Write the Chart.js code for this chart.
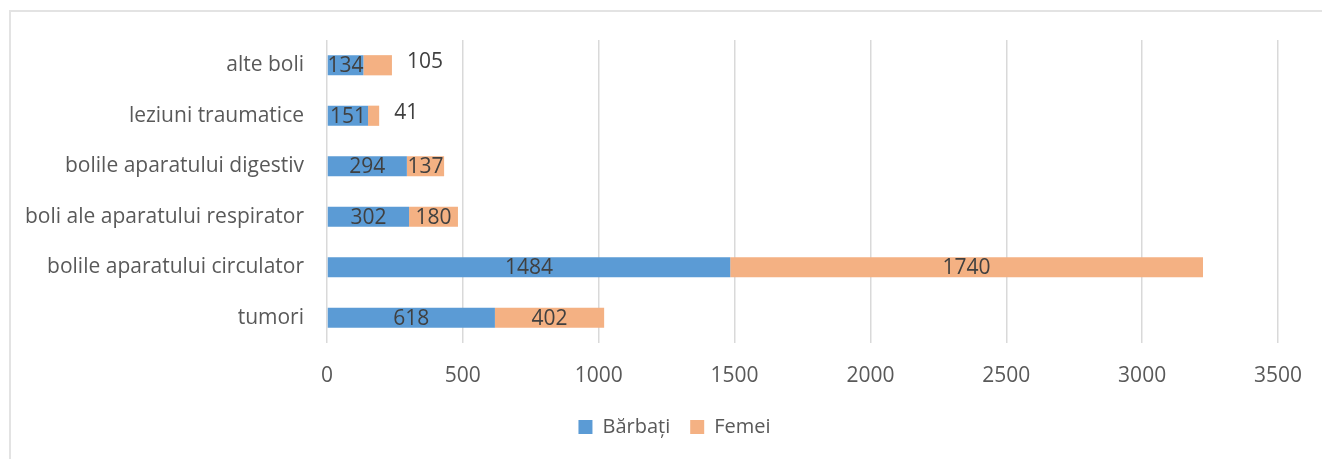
<!DOCTYPE html>
<html>
<head>
<meta charset="utf-8">
<script src="https://cdn.jsdelivr.net/npm/chart.js@4.4.0/dist/chart.umd.min.js"></script>
<style>
  html, body { margin: 0; padding: 0; background: #fff; overflow: hidden; }
  #frame { position: absolute; left: 9px; top: 10px; width: 1400px; height: 500px;
           border-top: 2px solid #e3e3e3; border-left: 2px solid #e3e3e3; }
  #wrap { position: absolute; left: 0; top: 0; width: 1322px; height: 459px; }
</style>
</head>
<body>
<div id="frame"></div>
<div id="wrap"><canvas id="bar_chart"></canvas></div>
<script>
var categories = ["alte boli", "leziuni traumatice", "bolile aparatului digestiv",
    "boli ale aparatului respirator", "bolile aparatului circulator", "tumori"];
var barbati = [134, 151, 294, 302, 1484, 618];
var femei = [105, 41, 137, 180, 1740, 402];
var seriesNames = ["Bărbați", "Femei"];
var xTicks = [0, 500, 1000, 1500, 2000, 2500, 3000, 3500];

var FONT = "'Open Sans', 'Noto Sans', sans-serif";

// draws the value of each bar segment, centred inside or just after the bar
var valueLabels = {
    id: 'valueLabels',
    afterDatasetsDraw: function (chart) {
        var ctx = chart.ctx;
        ctx.save();
        ctx.font = "21px " + FONT;
        ctx.fillStyle = "#404040";
        ctx.textBaseline = "middle";
        chart.data.datasets.forEach(function (ds, i) {
            chart.getDatasetMeta(i).data.forEach(function (bar, j) {
                var txt = String(ds.data[j]);
                var w = ctx.measureText(txt).width;
                var left = Math.min(bar.x, bar.base), right = Math.max(bar.x, bar.base);
                if (w > right - left + 2) {
                    ctx.textAlign = "left";
                    ctx.fillText(txt, right + 15, bar.y - 3);
                } else {
                    ctx.textAlign = "center";
                    ctx.fillText(txt, (left + right) / 2, bar.y + 1);
                }
            });
        });
        ctx.restore();
    }
};

// the legend sits a little right of centre in the original
var legendShift = {
    id: 'legendShift',
    afterLayout: function (chart) {
        chart.legend.left += 35;
        chart.legend.right += 35;
    }
};

new Chart(document.getElementById("bar_chart").getContext("2d"), {
    type: 'bar',
    data: {
        labels: categories,
        datasets: [
            { label: seriesNames[0], data: barbati, backgroundColor: '#5b9bd5',
              barPercentage: 0.4, categoryPercentage: 1 },
            { label: seriesNames[1], data: femei, backgroundColor: '#f4b183',
              barPercentage: 0.4, categoryPercentage: 1 }
        ]
    },
    options: {
        indexAxis: 'y',
        responsive: true,
        maintainAspectRatio: false,
        animation: false,
        layout: { padding: { left: 0, right: 43, top: 40, bottom: 12 } },
        plugins: {
            tooltip: { enabled: false },
            legend: {
                position: 'bottom',
                labels: {
                    font: { family: FONT, size: 20 },
                    color: '#595959',
                    boxWidth: 14,
                    boxHeight: 14,
                    padding: 20
                }
            }
        },
        scales: {
            x: {
                stacked: true,
                min: 0,
                max: 3500,
                afterBuildTicks: function (scale) {
                    scale.ticks = xTicks.map(function (v) { return { value: v }; });
                },
                afterFit: function (scale) { scale.height = 54; },
                grid: { color: '#d9d9d9', lineWidth: 1.5, drawTicks: false },
                border: { display: false },
                ticks: {
                    font: { family: FONT, size: 21 }, color: '#595959', padding: 20,
                    callback: function (v) { return String(v); }
                }
            },
            y: {
                stacked: true,
                afterFit: function (scale) { scale.width = 327; },
                grid: { display: false, drawTicks: false },
                border: { display: false },
                ticks: { font: { family: FONT, size: 21 }, color: '#595959', padding: 23 }
            }
        }
    },
    plugins: [valueLabels, legendShift]
});
</script>
</body>
</html>
